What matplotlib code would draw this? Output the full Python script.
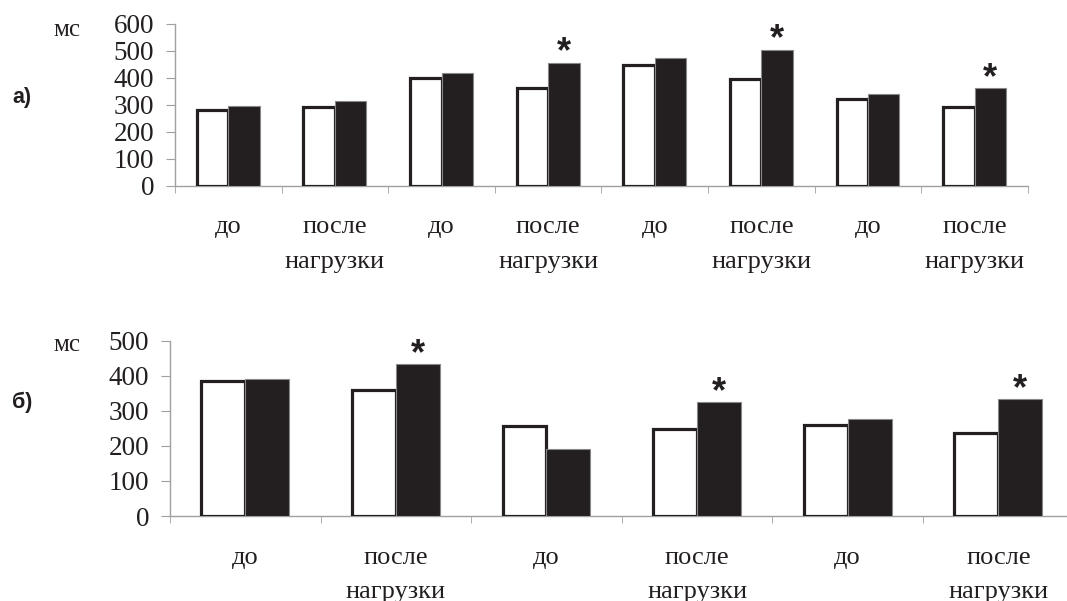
import matplotlib.pyplot as plt
import numpy as np

# panel а) — 8 groups
cats_a = ['до', 'после\nнагрузки'] * 4
white_a = [280, 293, 400, 363, 447, 394, 322, 293]
black_a = [296, 312, 419, 456, 473, 504, 341, 361]
star_a = [3, 5, 7]

# panel б) — 6 groups
cats_b = ['до', 'после\nнагрузки'] * 3
white_b = [385, 359, 256, 248, 260, 236]
black_b = [391, 432, 192, 325, 275, 334]
star_b = [1, 3, 5]

ink = '#231f20'
grey = '#a0a0a0'

plt.rcParams['font.family'] = ['Liberation Serif', 'DejaVu Serif']

fig = plt.figure(figsize=(10.67, 6.01), dpi=100)


def panel(ax, cats, white, black, stars, ymax, bw):
    x = np.arange(len(cats))
    ax.bar(x - bw / 2, white, bw, color='white', edgecolor=ink, linewidth=2.3, zorder=3)
    ax.bar(x + bw / 2, black, bw, color=ink, edgecolor='#888888', linewidth=0.8, zorder=4)
    for i in stars:
        ax.text(x[i] + bw / 2, black[i], '*', ha='center', va='baseline',
                fontsize=26, fontweight='bold', family='Liberation Sans', color=ink)
    ax.set_xlim(-0.5, len(cats) - 0.5)
    ax.set_ylim(0, ymax)
    ax.set_yticks(np.arange(0, ymax + 1, 100))
    ax.set_xticks(x)
    ax.set_xticklabels(cats, fontsize=19, color=ink, linespacing=1.72, va='top')
    ax.set_xticks(np.arange(-0.5, len(cats)), minor=True)
    ax.tick_params(axis='x', which='major', length=0, pad=22)
    ax.tick_params(axis='x', which='minor', length=5, color=grey, direction='out')
    ax.tick_params(axis='y', length=6.5, color=grey, labelsize=19.5, labelcolor=ink, pad=8.5)
    for s in ('top', 'right'):
        ax.spines[s].set_visible(False)
    for s in ('left', 'bottom'):
        ax.spines[s].set_color(grey)
        ax.spines[s].set_linewidth(1.0)
    return ax


ax1 = fig.add_axes([0.1640, 0.6910, 0.7994, 0.2696])
panel(ax1, cats_a, white_a, black_a, star_a, 600, 0.295)

# second panel's x axis runs past the right edge of the figure
ax2 = fig.add_axes([0.1593, 0.1414, 0.8469, 0.2920])
panel(ax2, cats_b, white_b, black_b, star_b, 500, 0.292)

# units and panel letters, in figure pixels from the top-left corner
W, H = 1067, 601
for y_mc, y_letter, letter in [(30, 97, 'а)'), (345, 402, 'б)')]:
    fig.text(53 / W, 1 - y_mc / H, 'мс', fontsize=18, color=ink, ha='left', va='center')
    fig.text(12 / W, 1 - y_letter / H, letter, fontsize=15.5, fontweight='bold',
             family='Liberation Sans', color=ink, ha='left', va='center')

fig.savefig('out.png', dpi=100)
